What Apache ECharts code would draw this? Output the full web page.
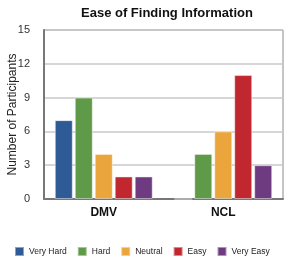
<!DOCTYPE html>
<html>
<head>
<meta charset="utf-8">
<script src="https://cdn.jsdelivr.net/npm/echarts@6/dist/echarts.min.js"></script>
<style>
  html, body { margin: 0; padding: 0; background: #fff; }
  #chart { width: 286px; height: 261px; }
</style>
</head>
<body>
<div id="chart"></div>
<script>
// categories and series values
const groups = ['DMV', 'NCL'];
const levels = ['Very Hard', 'Hard', 'Neutral', 'Easy', 'Very Easy'];
const veryHard = [7, 0];
const hard = [9, 4];
const neutral = [4, 6];
const easy = [2, 11];
const veryEasy = [2, 3];
const colors = ['#2e5b96', '#5e9a48', '#eaa53d', '#c1272f', '#6f3b80'];

const values = [veryHard, hard, neutral, easy, veryEasy];
const font = 'Liberation Sans, Arial, sans-serif';

const chart = echarts.init(document.getElementById('chart'));
chart.setOption({
  animation: false,
  textStyle: { fontFamily: font },
  title: {
    text: 'Ease of Finding Information',
    left: 76,
    top: 2,
    textStyle: { fontSize: 13, fontWeight: 'bold', color: '#111', fontFamily: font }
  },
  legend: {
    data: levels,
    left: 14,
    top: 246,
    padding: 0,
    itemWidth: 9,
    itemHeight: 9,
    itemGap: 10,
    icon: 'rect',
    textStyle: { fontSize: 8.5, color: '#222' }
  },
  grid: {
    left: 44,
    right: 3,
    top: 30,
    bottom: 62,
    outerBoundsMode: 'none',
    containLabel: false,
    show: true,
    borderColor: '#8a8a8a',
    borderWidth: 1
  },
  xAxis: {
    type: 'category',
    data: groups,
    axisTick: { show: false },
    axisLine: { lineStyle: { color: '#777', width: 2 } },
    axisLabel: { fontSize: 12, fontWeight: 'bold', color: '#111', margin: 8 }
  },
  yAxis: {
    type: 'value',
    min: 0,
    max: 15,
    interval: 3,
    name: 'Number of Participants',
    nameLocation: 'middle',
    nameGap: 25,
    nameMoveOverlap: false,
    nameTextStyle: { fontSize: 12, color: '#222' },
    axisLine: { show: true, lineStyle: { color: '#777', width: 2 } },
    axisTick: { show: false },
    axisLabel: { fontSize: 11, color: '#333', margin: 14 },
    splitLine: { lineStyle: { color: '#c8c8c8', width: 1.5 } }
  },
  series: levels.map((name, i) => ({
    name: name,
    type: 'bar',
    data: values[i],
    barWidth: 18,
    barGap: '11%',
    itemStyle: {
      color: colors[i],
      borderColor: 'rgba(255,255,255,0.45)',
      borderWidth: 1
    }
  })),
  color: colors
});
</script>
</body>
</html>
